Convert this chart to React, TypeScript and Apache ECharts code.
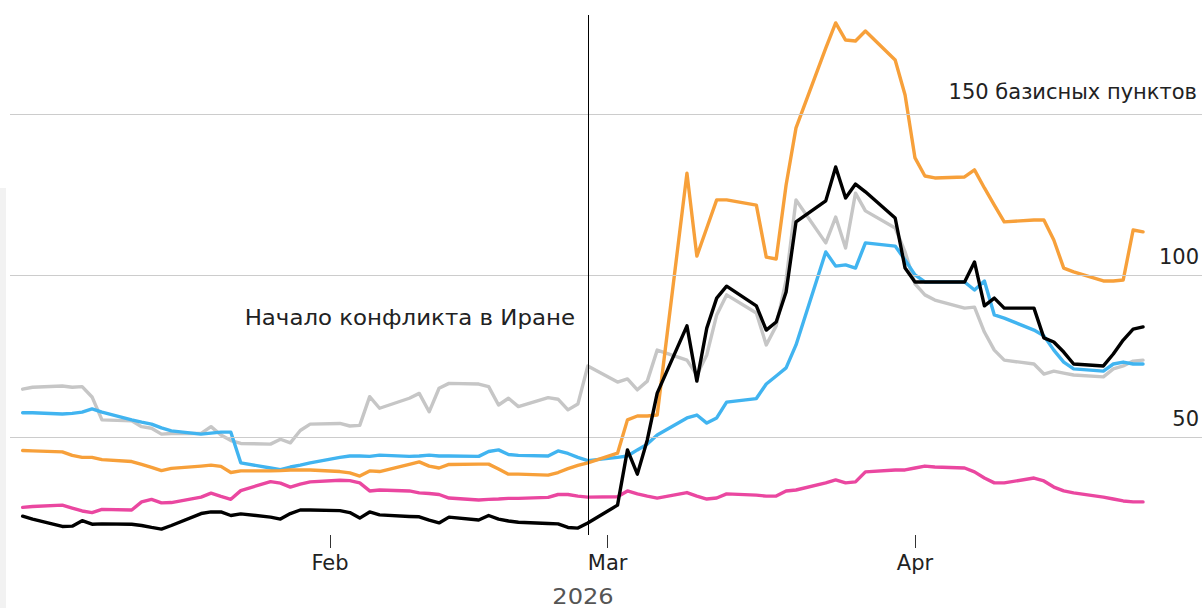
import React, { useEffect, useRef } from "react";
import * as echarts from "echarts";

const dates = [
  "2026-01-01","2026-01-02","2026-01-05","2026-01-06","2026-01-07","2026-01-08","2026-01-09","2026-01-12","2026-01-13","2026-01-14","2026-01-15","2026-01-16","2026-01-19","2026-01-20","2026-01-21","2026-01-22","2026-01-23","2026-01-26","2026-01-27","2026-01-28","2026-01-29","2026-01-30",
  "2026-02-02","2026-02-03","2026-02-04","2026-02-05","2026-02-06","2026-02-09","2026-02-10","2026-02-11","2026-02-12","2026-02-13","2026-02-16","2026-02-17","2026-02-18","2026-02-19","2026-02-20","2026-02-23","2026-02-24","2026-02-25","2026-02-26","2026-02-27",
  "2026-03-02","2026-03-03","2026-03-04","2026-03-05","2026-03-06","2026-03-09","2026-03-10","2026-03-11","2026-03-12","2026-03-13","2026-03-16","2026-03-17","2026-03-18","2026-03-19","2026-03-20","2026-03-23","2026-03-24","2026-03-25","2026-03-26","2026-03-27","2026-03-30","2026-03-31",
  "2026-04-01","2026-04-02","2026-04-03","2026-04-06","2026-04-07","2026-04-08","2026-04-09","2026-04-10","2026-04-13","2026-04-14","2026-04-15","2026-04-16","2026-04-17","2026-04-20","2026-04-21","2026-04-22","2026-04-23","2026-04-24"
];

const orangeValues = [
  45.8, 45.7, 45.4, 44.3, 43.7, 43.7, 43.0, 42.4, 41.5, 40.6, 39.6, 40.3, 41.0, 41.3, 40.9, 39.0, 39.5, 39.5, 39.6, 39.8, 39.8, 39.8,
  39.3, 38.9, 37.9, 39.5, 39.3, 41.5, 42.3, 41.0, 40.4, 41.5, 41.6, 41.6, 40.1, 38.5, 38.5, 38.2, 39.0, 40.2, 41.2, 42.0,
  45.0, 55.3, 56.5, 56.5, 56.8, 131.7, 106.0, 114.7, 123.4, 123.4, 121.8, 105.7, 105.1, 128.0, 145.7, 170.4, 178.2, 172.9, 172.6, 175.7, 166.7, 155.9,
  136.4, 130.8, 130.2, 130.5, 132.7, 127.1, 121.8, 116.6, 117.2, 117.2, 111.0, 102.3, 101.1, 98.3, 98.3, 98.6, 114.1, 113.5
];

const blueValues = [
  57.5, 57.5, 57.1, 57.3, 57.7, 58.7, 57.7, 55.3, 54.6, 54.0, 52.8, 51.9, 50.9, 51.2, 51.5, 51.5, 42.0, 40.4, 39.9, 40.7, 41.3, 42.0,
  43.7, 44.1, 44.1, 44.0, 44.4, 44.0, 44.1, 44.4, 44.1, 44.1, 44.0, 45.5, 46.0, 44.6, 44.3, 44.1, 45.7, 44.9, 43.7, 42.7,
  43.7, 44.1, 46.0, 47.8, 50.6, 55.9, 56.8, 54.3, 55.9, 60.8, 61.9, 66.4, 68.9, 71.4, 78.5, 107.3, 102.9, 103.3, 102.3, 110.1, 109.1, 104.8,
  100.2, 98.0, 98.0, 98.0, 95.5, 98.3, 87.8, 86.8, 83.1, 81.3, 76.9, 73.2, 71.1, 70.4, 72.6, 73.2, 72.6, 72.6
];

const grayValues = [
  64.8, 65.4, 65.8, 65.4, 65.6, 62.4, 55.3, 55.0, 53.2, 52.7, 50.9, 51.1, 51.1, 53.2, 50.6, 48.9, 48.0, 47.8, 49.3, 48.2, 52.0, 54.0,
  54.2, 53.4, 53.6, 62.5, 58.9, 62.0, 63.5, 57.8, 65.1, 66.6, 66.4, 65.6, 59.9, 62.0, 59.4, 62.2, 61.7, 58.4, 60.2, 72.0,
  67.0, 68.0, 64.6, 67.3, 76.9, 73.8, 69.2, 75.4, 87.8, 94.0, 88.4, 78.5, 84.4, 98.6, 123.4, 110.1, 118.1, 108.5, 125.5, 120.0, 114.7, 107.3,
  97.4, 94.0, 92.4, 89.9, 90.2, 82.5, 76.9, 73.8, 72.6, 69.5, 70.4, 69.8, 69.2, 68.6, 71.1, 72.0, 73.5, 73.8
];

const pinkValues = [
  28.2, 28.5, 28.9, 28.0, 27.1, 26.6, 27.6, 27.4, 29.9, 30.7, 29.6, 29.7, 31.4, 32.6, 31.6, 30.7, 33.4, 36.2, 35.7, 34.5, 35.4, 36.1,
  36.6, 36.5, 35.8, 33.3, 33.6, 33.3, 32.7, 32.5, 32.2, 31.1, 30.5, 30.7, 30.8, 31.0, 31.0, 31.3, 32.2, 32.2, 31.7, 31.4,
  31.5, 33.3, 32.4, 31.7, 31.1, 32.8, 31.7, 30.8, 31.1, 32.4, 32.0, 31.7, 31.7, 33.3, 33.6, 35.8, 36.7, 35.8, 36.1, 39.2, 39.8, 39.8,
  40.4, 41.0, 40.7, 40.4, 39.2, 37.3, 35.8, 35.8, 37.3, 36.4, 34.5, 33.3, 32.7, 31.4, 30.8, 30.2, 29.9, 29.9
];

const blackValues = [
  25.5, 24.6, 22.3, 22.4, 24.1, 23.0, 23.1, 23.0, 22.6, 22.0, 21.5, 22.6, 26.3, 26.8, 26.8, 25.7, 26.2, 25.2, 24.6, 26.3, 27.4, 27.4,
  27.2, 26.6, 24.9, 26.8, 25.9, 25.4, 25.3, 24.3, 23.4, 25.2, 24.3, 25.7, 24.6, 24.0, 23.6, 23.2, 23.1, 22.0, 21.8, 23.4,
  28.9, 46.0, 38.5, 49.1, 63.6, 84.4, 67.3, 83.7, 93.0, 96.7, 90.6, 83.1, 85.6, 94.9, 116.6, 123.1, 133.6, 124.0, 128.3, 125.9, 117.8, 102.3,
  98.0, 98.0, 98.0, 98.0, 104.2, 90.6, 93.0, 89.9, 89.9, 80.7, 79.4, 76.3, 72.6, 72.0, 75.7, 80.0, 83.4, 84.1
];

const monthTickDates = ["2026-02-01", "2026-03-01", "2026-04-01"];
const monthLabels = ["Feb", "Mar", "Apr"];
const yTickValues = [50, 100, 150];
const unitText = "базисных пунктов";
const yearText = "2026";
const conflictDate = "2026-02-27";
const conflictText = "Начало конфликта в Иране";

const DAY = 86400000;
const ts = (s: string) => {
  const [y, m, d] = s.split("-").map(Number);
  return Date.UTC(y, m - 1, d);
};

const FONT = "'DejaVu Sans', 'Liberation Sans', Arial, sans-serif";
const FS = 21;

export default function App() {
  const ref = useRef<HTMLDivElement>(null);

  useEffect(() => {
    if (!ref.current) return;
    const chart = echarts.init(ref.current, null, { renderer: "svg" });
    const tickTs = monthTickDates.map(ts);
    const xMin = ts("2026-02-01") - 32.274 * DAY;
    const xMax = xMin + 120.22 * DAY;
    const toData = (vals: number[]) => dates.map((d, i) => [ts(d), vals[i]]);
    const lineStyle = (color: string, z: number) => ({
      type: "line" as const,
      showSymbol: false,
      symbol: "none",
      z,
      lineStyle: { color, width: 3.4, join: "round" as const, cap: "round" as const },
      itemStyle: { color },
      emphasis: { disabled: true },
      silent: true,
    });

    chart.setOption({
      animation: false,
      grid: { left: 10, right: 2, top: 15, bottom: 73, containLabel: false },
      xAxis: {
        type: "value",
        min: xMin,
        max: xMax,
        axisLine: { show: false },
        splitLine: { show: false },
        axisTick: {
          show: true,
          customValues: tickTs,
          length: 13,
          lineStyle: { color: "#333", width: 1 },
        },
        axisLabel: {
          customValues: tickTs,
          formatter: (v: number) => {
            const i = tickTs.indexOf(v);
            return i >= 0 ? monthLabels[i] : "";
          },
          margin: 17,
          fontSize: FS,
          fontFamily: FONT,
          color: "#222",
        },
      },
      yAxis: {
        type: "value",
        position: "right",
        min: 19.66,
        max: 180.65,
        axisLine: { show: false },
        axisTick: { show: false },
        splitLine: { show: false },
        axisLabel: {
          inside: true,
          customValues: yTickValues,
          margin: 3,
          verticalAlign: "bottom",
          formatter: (v: number) => (v === 150 ? `{u|${v} ${unitText}}` : `{n|${v}}`),
          rich: {
            n: { fontSize: FS, fontFamily: FONT, color: "#222", padding: [0, 0, 8, 0] },
            u: { fontSize: FS, fontFamily: FONT, color: "#222", padding: [0, 2, 11, 0] },
          },
        },
      },
      series: [
        {
          ...lineStyle("#c6c6c6", 1),
          name: "gray",
          data: toData(grayValues),
          markLine: {
            silent: true,
            symbol: ["none", "none"],
            label: { show: false },
            lineStyle: { color: "#cccccc", width: 1, type: "solid" },
            data: yTickValues.map((v) => ({ yAxis: v })),
          },
        },
        { ...lineStyle("#41b4f0", 2), name: "blue", data: toData(blueValues) },
        { ...lineStyle("#f7a03a", 3), name: "orange", data: toData(orangeValues) },
        { ...lineStyle("#ea47a0", 4), name: "pink", data: toData(pinkValues) },
        {
          ...lineStyle("#000000", 5),
          name: "black",
          data: toData(blackValues),
          markLine: {
            silent: true,
            symbol: ["none", "none"],
            label: { show: false },
            lineStyle: { color: "#000", width: 1, type: "solid" },
            data: [{ xAxis: ts(conflictDate) }],
          },
        },
      ],
      graphic: [
        { type: "rect", left: 0, top: 188, shape: { width: 6, height: 420 }, style: { fill: "#f2f2f2" }, silent: true },
        {
          type: "text",
          x: 575,
          y: 318,
          scaleX: 1.09,
          originX: 0,
          originY: 0,
          style: { text: conflictText, fontSize: FS, fontFamily: FONT, fill: "#222", align: "right", verticalAlign: "middle" },
          silent: true,
        },
        {
          type: "text",
          x: 583,
          y: 597,
          scaleX: 1.15,
          originX: 0,
          originY: 0,
          style: { text: yearText, fontSize: FS, fontFamily: FONT, fill: "#555", align: "center", verticalAlign: "middle" },
          silent: true,
        },
      ],
    });
    return () => chart.dispose();
  }, []);

  return (
    <div
      ref={ref}
      style={{ position: "absolute", left: 0, top: 0, width: 1204, height: 608 }}
    />
  );
}
